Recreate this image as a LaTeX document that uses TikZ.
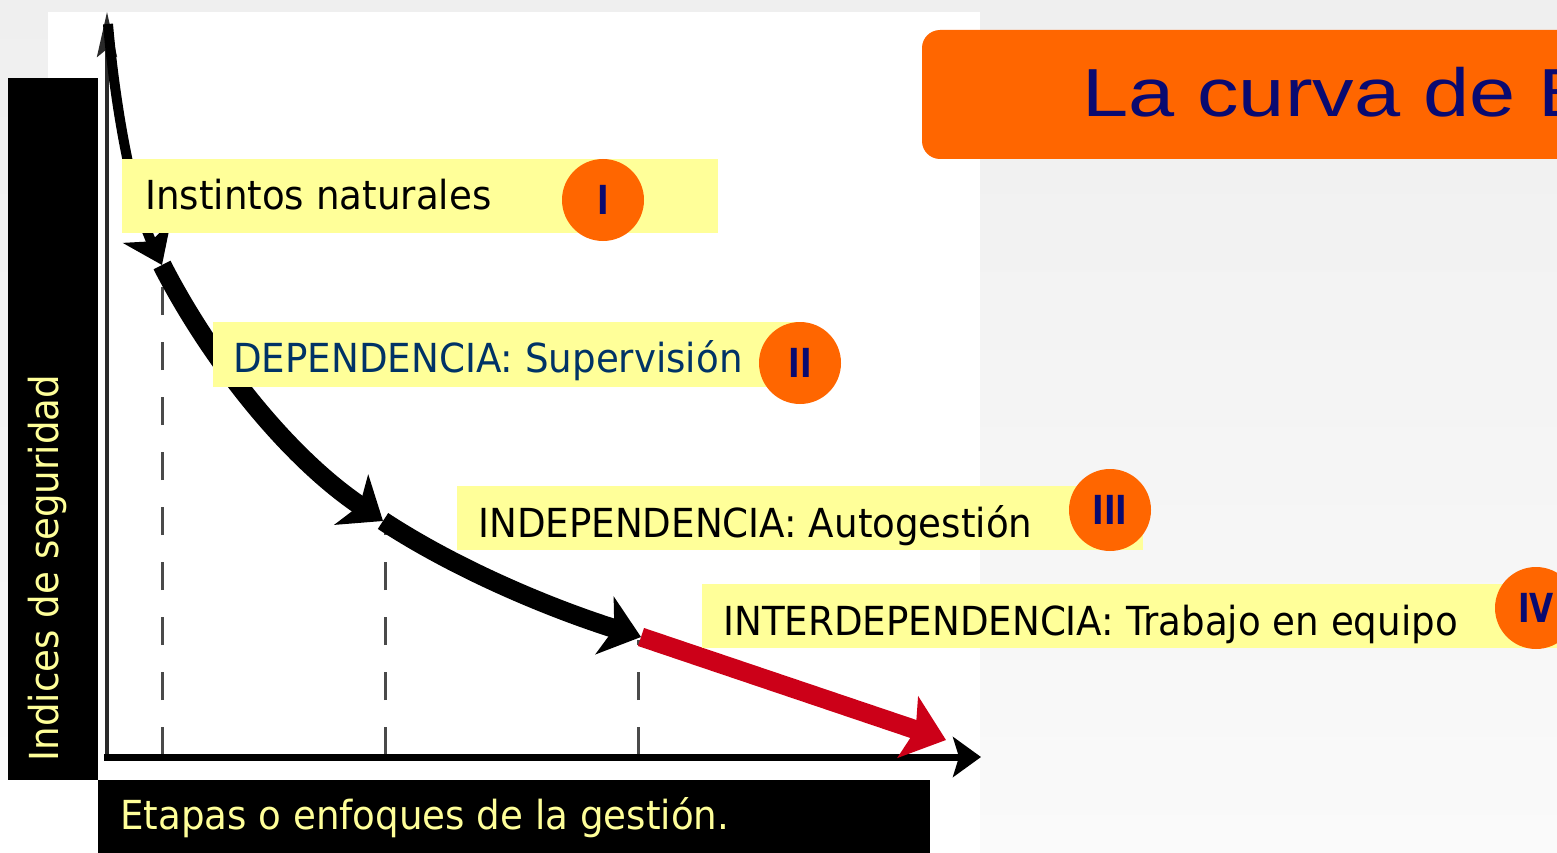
\documentclass[tikz,border=0pt]{standalone}
\usepackage{fontspec}
\usetikzlibrary{arrows.meta}
\newfontfamily\labfont[FakeStretch=0.93]{DejaVu Sans}
\newfontfamily\numfont[FakeStretch=0.78]{DejaVu Sans}
\newfontfamily\titlefont[FakeStretch=1.22]{Liberation Sans}
\definecolor{bgtop}{HTML}{EFEFEF}
\definecolor{bgbot}{HTML}{FAFAFA}
\definecolor{pyellow}{HTML}{FFFF99}
\definecolor{orng}{HTML}{FF6600}
\definecolor{navy}{HTML}{0A0A70}
\definecolor{dblue}{HTML}{003366}
\definecolor{ared}{HTML}{CC0018}
\definecolor{axgray}{HTML}{2A2A2A}
\begin{document}
\begin{tikzpicture}[x=1pt,y=-1pt,
  lbl/.style={anchor=base west, inner sep=0pt, font=\labfont\fontsize{40}{48}\selectfont},
  numc/.style={circle, fill=orng, minimum size=82pt, inner sep=0pt, text=navy, font=\numfont\bfseries\fontsize{40}{44}\selectfont},
  guide/.style={line width=3pt, draw=axgray!85, dash pattern=on 28pt off 27pt},
  blackcurve/.style={line width=19pt, draw=black, -{Stealth[length=38pt,width=60pt,inset=10pt]}}
]
\clip (0,0) rectangle (1557,853);
% background
\shade[top color=bgtop, bottom color=bgbot] (0,0) rectangle (1557,853);
\fill[white] (48,12) rectangle (980,853);
\fill[white] (0,780) rectangle (98,853);
% dashed guides
\draw[guide] (162,755) -- (162,285);
\draw[guide] (385,755) -- (385,530);
\draw[guide] (638,755) -- (638,640);
% axes
\coordinate (o) at (107,760);
\coordinate (ytop) at (107,12);
\coordinate (xend) at (981,757);
\draw[line width=4pt, axgray, -{Stealth[length=45pt,width=20pt,inset=8pt]}] (o) -- (ytop);
\draw[line width=7pt, black, -{Stealth[length=28pt,width=40pt,inset=6pt]}] (104,757) -- (xend);
% curve
\coordinate (p0) at (108,24);
\coordinate (p1) at (162,265);
\coordinate (p2) at (383,521);
\coordinate (p3) at (641,637);
\coordinate (p4) at (946,740);
\draw[line width=19pt, ared, -{Stealth[length=40pt,width=64pt,inset=8pt]}] (p3) -- (p4);
\draw[line width=10pt, black, -{Stealth[length=36pt,width=52pt,inset=10pt]}] (p0) .. controls (114,95) and (130,195) .. (p1);
\draw[blackcurve] (p1) .. controls (208,355) and (285,455) .. (p2);
\draw[blackcurve] (p2) .. controls (450,565) and (540,605) .. (p3);
% black label bars
\fill[black] (8,78) rectangle (98,780);
\fill[black] (98,780) rectangle (930,853);
\node[lbl, anchor=base, rotate=90, text=pyellow] (ylab) at (58,568) {Indices de seguridad};
\node[lbl, text=pyellow] (xlab) at (120,829) {Etapas o enfoques de la gestión.};
% title
\fill[orng, rounded corners=18pt] (922,30) rectangle (1620,159);
\node[anchor=base west, inner sep=0pt, text=navy, font=\titlefont\fontsize{68}{80}\selectfont] (title) at (1082,117) {La curva de B};
% stage labels
\fill[pyellow] (122,159) rectangle (718,233);
\node[lbl, text=black] (t1) at (145,209) {Instintos naturales};
\node[numc] (c1) at (603,200) {I};
\fill[pyellow] (213,322) rectangle (800,387);
\node[lbl, text=dblue] (t2) at (233,372) {DEPENDENCIA: Supervisión};
\node[numc] (c2) at (800,363) {II};
\fill[pyellow] (457,486) rectangle (1143,550);
\node[lbl, text=black] (t3) at (478,537) {INDEPENDENCIA: Autogestión};
\node[numc] (c3) at (1110,510) {III};
\fill[pyellow] (702,584) rectangle (1557,648);
\node[lbl, text=black] (t4) at (723,635) {INTERDEPENDENCIA: Trabajo en equipo};
\node[numc] (c4) at (1536,608) {IV};
\end{tikzpicture}
\end{document}
